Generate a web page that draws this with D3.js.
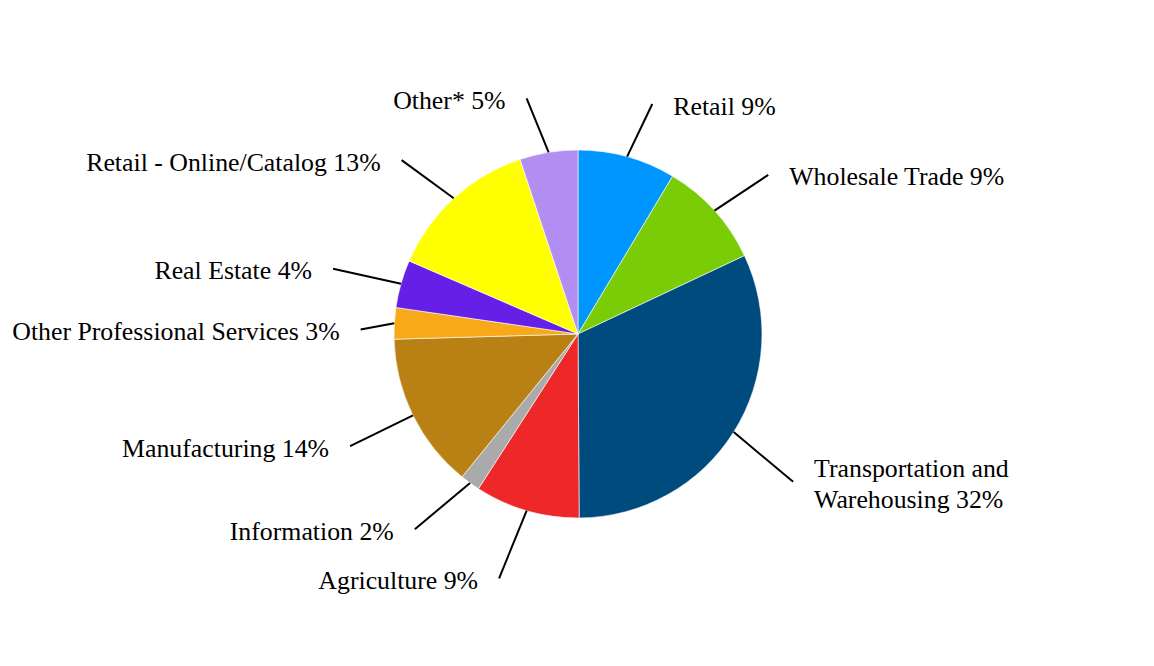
<!DOCTYPE html>
<html>
<head>
<meta charset="utf-8">
<script src="https://cdn.jsdelivr.net/npm/d3@7"></script>
<style>
  html, body { margin: 0; padding: 0; background: #ffffff; }
  svg { display: block; }
  text { font-family: "Liberation Serif", "Times New Roman", serif; }
</style>
</head>
<body>
<svg id="chart" width="1154" height="666"></svg>
<script>
// ---- data ----
const categories = [
  "Retail", "Wholesale Trade", "Transportation and Warehousing", "Agriculture",
  "Information", "Manufacturing", "Other Professional Services", "Real Estate",
  "Retail - Online/Catalog", "Other*"
];
const shares = [8.6, 9.4, 31.9, 9.2, 1.75, 13.7, 2.75, 4.2, 13.4, 5.1];
const labelPercents = ["9%", "9%", "32%", "9%", "2%", "14%", "3%", "4%", "13%", "5%"];
const labelLines = [
  ["Retail 9%"], ["Wholesale Trade 9%"], ["Transportation and", "Warehousing 32%"],
  ["Agriculture 9%"], ["Information 2%"], ["Manufacturing 14%"],
  ["Other Professional Services 3%"], ["Real Estate 4%"],
  ["Retail - Online/Catalog 13%"], ["Other* 5%"]
];
const colors = ["#0096ff", "#7acd06", "#004b7d", "#ee2828", "#aaaaaa",
                "#b98013", "#f8a91a", "#661fe6", "#ffff00", "#b38ef2"];

// ---- layout (leader-line end points, polar: degrees clockwise from 12 o'clock, radius px) ----
const leaderAngle = [17.9, 50.1, 124.5, 197.9, 219.9, 243.8, 271.2, 284.9, 314.6, 347.7];
const leaderRadius = [241.7, 248, 261, 256.7, 254.4, 254, 217.4, 253.5, 247.7, 241.2];

const cx = 578, cy = 334, R = 184;
const fontSize = 25.8, lineH = 31;

const svg = d3.select("#chart");
const g = svg.append("g").attr("transform", `translate(${cx},${cy})`);

const data = categories.map((c, i) => ({ name: c, value: shares[i], i }));
const pie = d3.pie().sort(null).value(d => d.value);
const arcs = pie(data);
const arc = d3.arc().innerRadius(0).outerRadius(R);

g.selectAll("path.slice")
  .data(arcs)
  .join("path")
  .attr("class", "slice")
  .attr("d", arc)
  .attr("fill", d => colors[d.data.i])
  .attr("stroke", "#ffffff")
  .attr("stroke-width", 0.6)
  .attr("stroke-linejoin", "round");

const rad = Math.PI / 180;
arcs.forEach(a => {
  const i = a.data.i;
  const mid = (a.startAngle + a.endAngle) / 2;
  const p0 = d3.pointRadial(mid, R);
  const p1 = d3.pointRadial(leaderAngle[i] * rad, leaderRadius[i]);
  g.append("line")
    .attr("x1", p0[0]).attr("y1", p0[1])
    .attr("x2", p1[0]).attr("y2", p1[1])
    .attr("stroke", "#000").attr("stroke-width", 2);

  const right = p1[0] > 0;
  const lines = labelLines[i];
  const t = g.append("text")
    .attr("x", p1[0] + (right ? 21 : -21))
    .attr("y", p1[1] + 10.5 - (lines.length - 1) * lineH / 2)
    .attr("text-anchor", right ? "start" : "end")
    .attr("font-size", fontSize)
    .attr("fill", "#000");
  lines.forEach((ln, k) => {
    t.append("tspan")
      .attr("x", p1[0] + (right ? 21 : -21))
      .attr("dy", k === 0 ? 0 : lineH)
      .text(ln);
  });
});
</script>
</body>
</html>
